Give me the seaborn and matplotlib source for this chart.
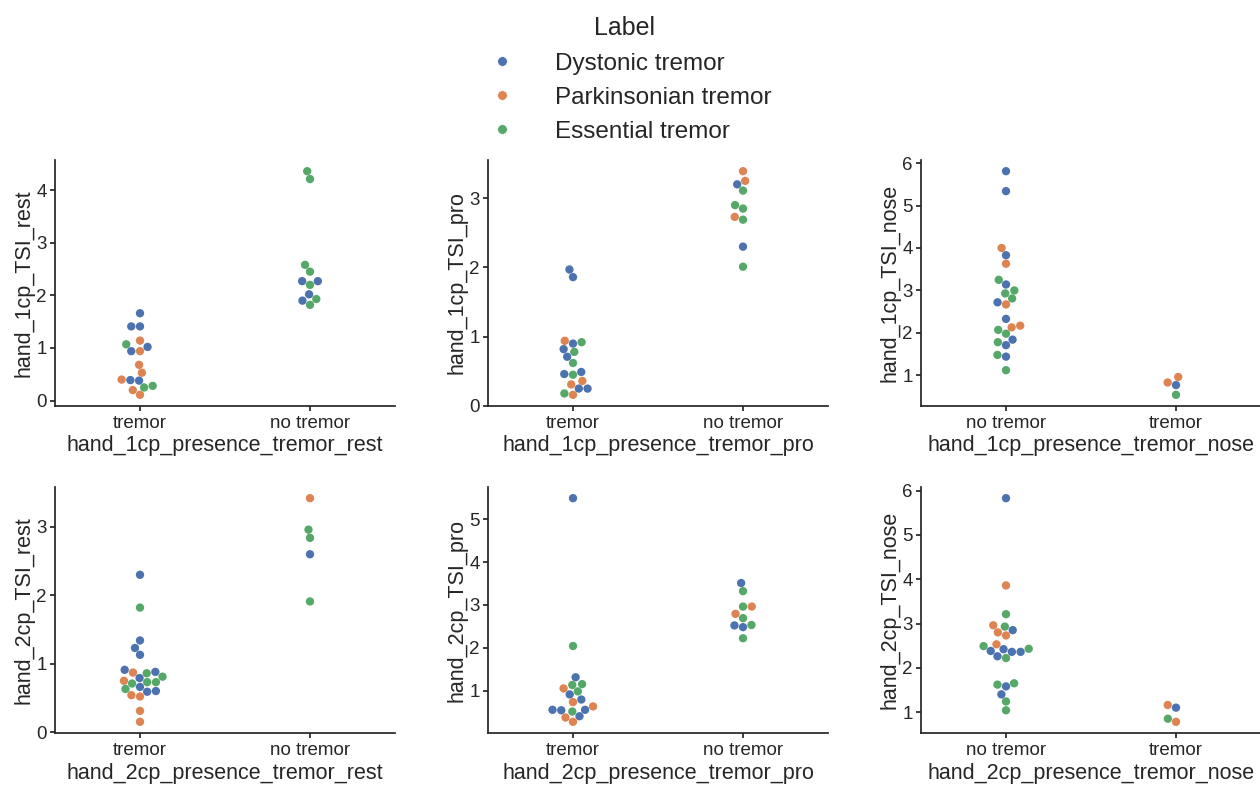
import matplotlib
matplotlib.use("Agg")
import matplotlib.pyplot as plt
from matplotlib.lines import Line2D
import seaborn as sns
import pandas as pd

# ---------------- data ----------------
hue_order = ["Dystonic tremor", "Parkinsonian tremor", "Essential tremor"]

# panel: hand_1cp rest
rest1_tremor = {"Dystonic tremor": [1.66, 1.41, 1.41, 1.02, 0.94, 0.38, 0.39],
                "Parkinsonian tremor": [1.14, 0.94, 0.68, 0.53, 0.40, 0.20, 0.11],
                "Essential tremor": [1.07, 0.28, 0.25]}
rest1_none = {"Dystonic tremor": [2.27, 2.27, 2.02, 1.90],
              "Parkinsonian tremor": [],
              "Essential tremor": [4.36, 4.21, 2.58, 2.45, 2.20, 1.93, 1.82]}

# panel: hand_1cp pro
pro1_tremor = {"Dystonic tremor": [1.97, 1.86, 0.90, 0.82, 0.71, 0.49, 0.46, 0.25, 0.25],
               "Parkinsonian tremor": [0.94, 0.36, 0.31, 0.16],
               "Essential tremor": [0.92, 0.78, 0.62, 0.45, 0.18]}
pro1_none = {"Dystonic tremor": [3.20, 2.30],
             "Parkinsonian tremor": [3.39, 3.25, 2.73],
             "Essential tremor": [3.11, 2.90, 2.85, 2.69, 2.01]}

# panel: hand_1cp nose
nose1_none = {"Dystonic tremor": [5.81, 5.34, 3.83, 3.14, 2.72, 2.33, 1.84, 1.71, 1.44],
              "Parkinsonian tremor": [4.00, 3.63, 2.67, 2.17, 2.13],
              "Essential tremor": [3.25, 3.00, 2.93, 2.81, 2.07, 1.98, 1.78, 1.48, 1.12]}
nose1_tremor = {"Dystonic tremor": [0.77],
                "Parkinsonian tremor": [0.96, 0.83],
                "Essential tremor": [0.54]}

# panel: hand_2cp rest
rest2_tremor = {"Dystonic tremor": [2.30, 1.34, 1.23, 1.13, 0.91, 0.88, 0.79, 0.66, 0.60, 0.59],
                "Parkinsonian tremor": [0.87, 0.75, 0.54, 0.52, 0.31, 0.15],
                "Essential tremor": [1.82, 0.86, 0.81, 0.73, 0.73, 0.71, 0.63]}
rest2_none = {"Dystonic tremor": [2.60],
              "Parkinsonian tremor": [3.42],
              "Essential tremor": [2.96, 2.84, 1.91]}

# panel: hand_2cp pro
pro2_tremor = {"Dystonic tremor": [5.49, 1.31, 0.91, 0.79, 0.55, 0.54, 0.55, 0.40],
               "Parkinsonian tremor": [1.05, 0.73, 0.63, 0.37, 0.27],
               "Essential tremor": [2.04, 1.13, 1.15, 0.98, 0.51]}
pro2_none = {"Dystonic tremor": [3.51, 2.52, 2.48],
             "Parkinsonian tremor": [2.96, 2.79],
             "Essential tremor": [3.32, 2.96, 2.69, 2.53, 2.22]}

# panel: hand_2cp nose
nose2_none = {"Dystonic tremor": [5.83, 2.85, 2.42, 2.38, 2.36, 2.36, 2.26, 1.58, 1.40],
              "Parkinsonian tremor": [3.86, 2.96, 2.80, 2.73, 2.53],
              "Essential tremor": [3.21, 2.93, 2.49, 2.43, 2.22, 1.65, 1.62, 1.24, 1.04]}
nose2_tremor = {"Dystonic tremor": [1.10],
                "Parkinsonian tremor": [1.16, 0.78],
                "Essential tremor": [0.85]}

panels = [
    ("hand_1cp_presence_tremor_rest", "hand_1cp_TSI_rest", ["tremor", "no tremor"], [rest1_tremor, rest1_none]),
    ("hand_1cp_presence_tremor_pro", "hand_1cp_TSI_pro", ["tremor", "no tremor"], [pro1_tremor, pro1_none]),
    ("hand_1cp_presence_tremor_nose", "hand_1cp_TSI_nose", ["no tremor", "tremor"], [nose1_none, nose1_tremor]),
    ("hand_2cp_presence_tremor_rest", "hand_2cp_TSI_rest", ["tremor", "no tremor"], [rest2_tremor, rest2_none]),
    ("hand_2cp_presence_tremor_pro", "hand_2cp_TSI_pro", ["tremor", "no tremor"], [pro2_tremor, pro2_none]),
    ("hand_2cp_presence_tremor_nose", "hand_2cp_TSI_nose", ["no tremor", "tremor"], [nose2_none, nose2_tremor]),
]

# ---------------- style ----------------
sns.set_theme(style="ticks")
plt.rcParams["font.family"] = ["Liberation Sans", "DejaVu Sans"]
plt.rcParams["xtick.labelsize"] = 13.5
plt.rcParams["ytick.labelsize"] = 13.5
plt.rcParams["xtick.major.size"] = 3.5
plt.rcParams["ytick.major.size"] = 3.5
plt.rcParams["xtick.major.pad"] = 3.0
plt.rcParams["ytick.major.pad"] = 2.5
palette = dict(zip(hue_order, sns.color_palette("deep", 3)))

fig = plt.figure(figsize=(12.6, 7.85), dpi=100)
lefts = [55 / 1260, 488 / 1260, 921 / 1260]
bottoms = [(785 - 406) / 785, (785 - 733) / 785]
w = 340 / 1260
h = 246 / 785

for i, (xl, yl, cats, groups) in enumerate(panels):
    r, c = divmod(i, 3)
    ax = fig.add_axes([lefts[c], bottoms[r], w, h])
    rows = []
    for cat, grp in zip(cats, groups):
        for lab in hue_order:
            for v in grp[lab]:
                rows.append({xl: cat, yl: v, "Label": lab})
    df = pd.DataFrame(rows)
    sns.swarmplot(data=df, x=xl, y=yl, hue="Label", order=cats, hue_order=hue_order,
                  palette=palette, size=6, ax=ax, legend=False)
    sns.despine(ax=ax)
    ax.set_xlabel(xl, fontsize=15.5, labelpad=2.5)
    ax.set_ylabel(yl, fontsize=15.5)
    ax.yaxis.set_label_coords(-0.06, 0.5)

handles = [Line2D([0], [0], marker="o", linestyle="", markersize=7,
                  markerfacecolor=palette[l], markeredgecolor="white", markeredgewidth=0.5)
           for l in hue_order]
leg = fig.legend(handles, hue_order, title="Label", loc="upper center",
                 bbox_to_anchor=(0.496, 1.007), frameon=False, fontsize=17.5,
                 title_fontsize=18, handletextpad=1.17, labelspacing=0.5)

fig.savefig("out.png", dpi=100)
